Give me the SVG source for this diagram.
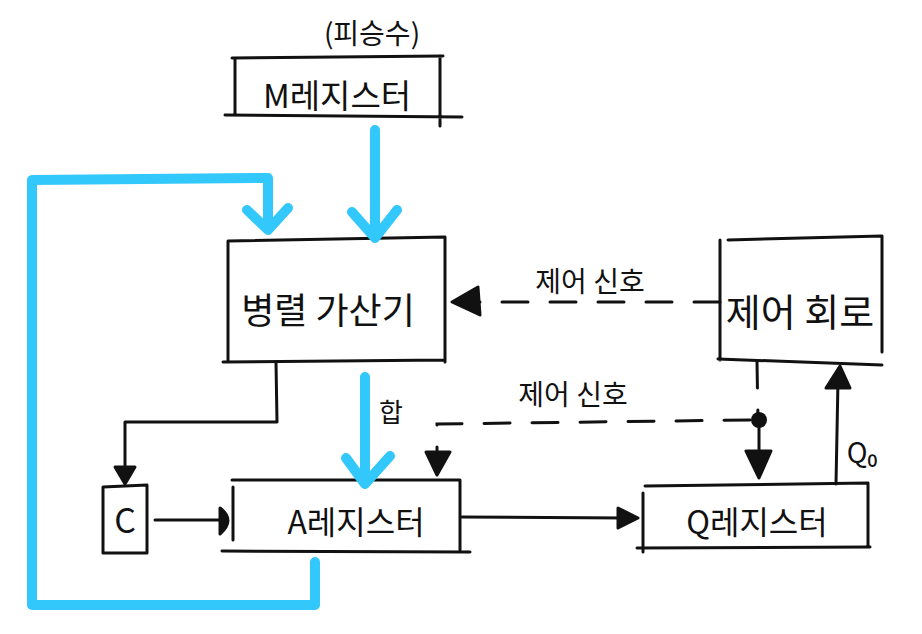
<svg xmlns="http://www.w3.org/2000/svg" width="922" height="634" viewBox="0 0 922 634">
<defs>
<style>
.ln{fill:none;stroke:#111;stroke-width:3;stroke-linecap:round;stroke-linejoin:round}
.ds{fill:none;stroke:#111;stroke-width:3;stroke-linecap:round;stroke-dasharray:26 22}
.bl{fill:none;stroke:#33c8fb;stroke-width:10;stroke-linecap:round;stroke-linejoin:round}
.hd{fill:#111;stroke:#111;stroke-width:3;stroke-linejoin:round}
text{font-family:"Noto Sans CJK KR","Noto Sans",sans-serif;fill:#111;text-anchor:middle;font-weight:400}
</style>
</defs>
<rect width="922" height="634" fill="#fff"/>
<g id="m-register">
<text x="372" y="44" font-size="28">(피승수)</text>
<path class="ln" d="M232 58 L443 56 M235 58 L235 114 M440 56 L440 126 M225 115 L462 117"/>
<text x="337" y="108" font-size="33">M레지스터</text>
</g>
<g id="adder">
<path class="ln" d="M228 241 L445 237 L445 362 M228 241 L228 362 M223 362 L445 360"/>
<text x="328" y="324" font-size="36">병렬 가산기</text>
</g>
<g id="control">
<path class="ln" d="M728 240 L882 236 L882 352 M720 240 L720 360 M718 359 L882 365"/>
<text x="800" y="326" font-size="38">제어 회로</text>
</g>
<g id="c-box">
<path class="ln" d="M103 487 L147 485 L147 553 M103 487 L103 553 L147 553"/>
<text x="125" y="533" font-size="34">C</text>
</g>
<g id="a-register">
<path class="ln" d="M232 480 L460 480 L460 550 M233 487 L233 540 M222 551 L470 552"/>
<text x="356" y="534" font-size="32">A레지스터</text>
</g>
<g id="q-register">
<path class="ln" d="M645 486 L868 483 L868 547 M643 493 L643 552 M637 548 L870 547"/>
<text x="757" y="534" font-size="32">Q레지스터</text>
</g>
<g id="connectors">
<path class="bl" d="M375 130 L375 238 M352 212 L375 238 L397 210"/>
<path class="bl" d="M315 562 L315 605 L32 605 L32 180 L268 178 L268 228 M247 210 L268 230 L288 208"/>
<path class="bl" d="M365 377 L365 484 M346 458 L365 484 L390 456"/>
<text x="391" y="422" font-size="26">합</text>
<path class="ln" d="M276 362 L277 422 L125 422 L125 470"/>
<path class="hd" d="M115 467 L135 467 L125 484 Z"/>
<path class="ln" d="M155 520 L222 520"/>
<path class="hd" d="M220 508 Q236 520 220 534 Z"/>
<path class="ln" d="M462 517 L625 518"/>
<path class="hd" d="M618 508 L638 518 L618 528 Z"/>
<path class="ds" d="M720 302 L468 302"/>
<path class="hd" d="M452 302 L478 287 L480 315 Z"/>
<text x="590" y="292" font-size="28">제어 신호</text>
<path class="ds" d="M757 362 L758 420"/>
<path class="ds" d="M750 420 L437 424 L437 452"/>
<circle cx="759" cy="420" r="8" fill="#111"/>
<path class="ln" d="M759 420 L759 458"/>
<path class="hd" d="M746 451 L771 451 L759 478 Z"/>
<path class="hd" d="M426 452 L450 452 L437 475 Z"/>
<text x="573" y="405" font-size="28">제어 신호</text>
<path class="ln" d="M836 484 L838 380"/>
<path class="hd" d="M826 388 L850 388 L840 366 Z"/>
<text x="862" y="463" font-size="28">Q₀</text>
</g>
</svg>
